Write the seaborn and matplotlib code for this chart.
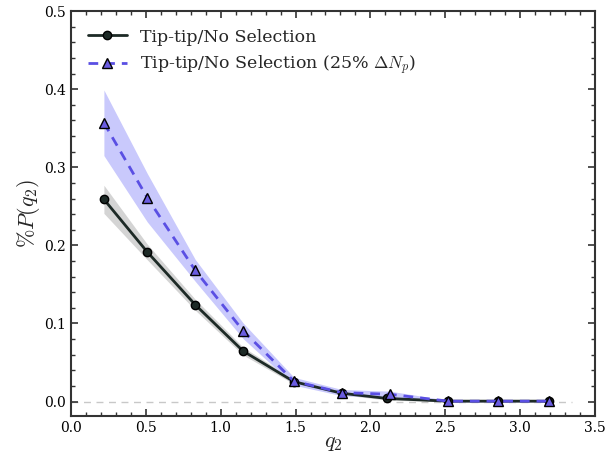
import numpy as np
import pandas as pd
import matplotlib
matplotlib.use('Agg')
import matplotlib.pyplot as plt
import seaborn as sns

# q2 bins and probabilities
q2_all = [0.22, 0.51, 0.83, 1.15, 1.49, 1.81, 2.11, 2.52, 2.85, 3.19]
p_all = [0.259, 0.1915, 0.124, 0.0646, 0.0254, 0.0106, 0.004, 0.0005, 0.0005, 0.0005]
err_all = [0.018, 0.010, 0.007, 0.005, 0.003, 0.002, 0.002, 0.001, 0.001, 0.001]

q2_sub = [0.22, 0.51, 0.83, 1.15, 1.49, 1.81, 2.13, 2.52, 2.85, 3.19]
p_sub = [0.357, 0.261, 0.168, 0.0906, 0.026, 0.0114, 0.0093, 0.0005, 0.0005, 0.0005]
err_sub = [0.042, 0.031, 0.014, 0.010, 0.005, 0.004, 0.004, 0.001, 0.001, 0.001]

labels = ['Tip-tip/No Selection', r'Tip-tip/No Selection (25% $\Delta N_p$)']

sns.set_style('ticks')
plt.rcParams['font.family'] = ['DejaVu Serif']
plt.rcParams['mathtext.fontset'] = 'cm'

fig = plt.figure(figsize=(6.15, 4.59), dpi=100)
ax = fig.add_axes([0.1154, 0.0937, 0.852, 0.882])

dark = '#1d2a26'
blue = '#5a4fe3'

ax.hlines(0, 0, 3.35, colors='#c8c8c8', linestyles=(0, (5, 4)), linewidth=1, zorder=0)

lo = np.array(p_all) - np.array(err_all)
hi = np.array(p_all) + np.array(err_all)
ax.fill_between(q2_all, lo, hi, color='#d4d4d4', linewidth=0, zorder=1)
lo = np.array(p_sub) - np.array(err_sub)
hi = np.array(p_sub) + np.array(err_sub)
ax.fill_between(q2_sub, lo, hi, color='#c9c9fc', linewidth=0, zorder=1)

d1 = pd.DataFrame({'q2': q2_all, 'p': p_all})
d2 = pd.DataFrame({'q2': q2_sub, 'p': p_sub})
sns.lineplot(data=d1, x='q2', y='p', ax=ax, color=dark, linewidth=2, marker='o',
             markersize=6, markeredgecolor='black', markeredgewidth=1, label=labels[0], zorder=3)
sns.lineplot(data=d2, x='q2', y='p', ax=ax, color=blue, linewidth=2, marker='^',
             markersize=6.5, markerfacecolor='#6a5ce0', markeredgecolor='black', markeredgewidth=1,
             label=labels[1], zorder=4)
ax.lines[-1].set_linestyle((0, (3.5, 2.5)))

ax.set_xlim(0, 3.5)
ax.set_ylim(-0.0185, 0.5)
ax.set_xticks(np.arange(0, 3.51, 0.5))
ax.set_yticks(np.arange(0, 0.51, 0.1))
ax.set_xticks(np.arange(0, 3.51, 0.1), minor=True)
ax.set_yticks(np.arange(0, 0.501, 0.02), minor=True)
ax.tick_params(which='both', direction='in', top=True, right=True, colors='#333333', labelcolor='black', labelsize=10)
ax.tick_params(which='major', length=5, width=1.2)
ax.tick_params(which='minor', length=3, width=1)
for s in ax.spines.values():
    s.set_linewidth(1.5)
    s.set_color('#333333')

ax.set_xlabel(r'$q_2$', fontsize=16)
ax.set_ylabel(r'$\%P(q_2)$', fontsize=16)
ax.xaxis.set_label_coords(0.5, -0.038)
ax.yaxis.set_label_coords(-0.055, 0.5)

leg = ax.legend(loc='upper left', frameon=False, fontsize=12.5, handlelength=2.2,
                borderaxespad=0.6, labelspacing=0.5)
leg.get_lines()[1].set_linestyle((0, (3.5, 2.5)))

fig.savefig('out.png', dpi=100)
